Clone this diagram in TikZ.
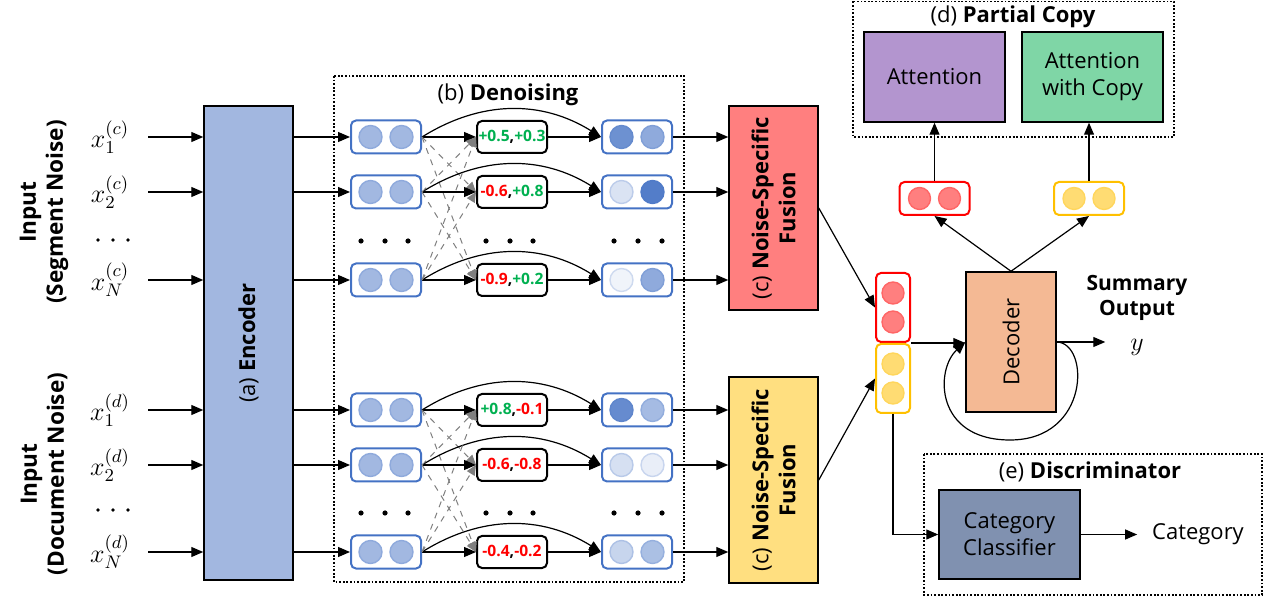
\RequirePackage{fix-cm}
\documentclass[tikz,border=0pt]{standalone}
\usepackage{fontspec}
\setmainfont{Open Sans}
\usetikzlibrary{arrows.meta,calc}

\definecolor{encfill}{RGB}{162,183,224}
\definecolor{boxblue}{RGB}{68,114,196}
\definecolor{fusred}{RGB}{255,127,127}
\definecolor{fusyel}{RGB}{255,223,128}
\definecolor{decfill}{RGB}{244,185,148}
\definecolor{attfill}{RGB}{179,149,207}
\definecolor{copyfill}{RGB}{127,214,166}
\definecolor{clsfill}{RGB}{128,145,176}
\definecolor{posg}{RGB}{0,176,80}
\definecolor{negr}{RGB}{255,0,0}
\definecolor{redline}{RGB}{255,0,0}
\definecolor{redcell}{RGB}{255,127,127}
\definecolor{yelline}{RGB}{255,192,0}
\definecolor{yelcell}{RGB}{255,220,115}
\definecolor{arrgray}{RGB}{127,127,127}

\tikzset{
  every node/.style={font=\fontsize{11}{13.5}\selectfont},
  arr/.style={line width=0.6pt, -{Triangle[length=6pt,width=5pt]}},
  garr/.style={arrgray, dashed, line width=0.5pt, -{Triangle[length=5pt,width=4.5pt]}},
  block/.style={draw, line width=0.75pt, align=center},
  vbox/.style={draw=boxblue, line width=1pt, rounded corners=2.5pt, minimum width=35pt, minimum height=16.5pt, inner sep=0pt},
  valbox/.style={draw, line width=1pt, rounded corners=2.5pt, minimum width=35pt, minimum height=16pt, inner sep=0pt, font=\fontsize{7.8}{9}\selectfont\bfseries},
  xlabel/.style={font=\fontsize{13}{15}\selectfont},
  dotbox/.style={dash pattern=on 0.9pt off 0.9pt, line width=0.8pt},
  cellred/.style={line width=0.7pt, fill=redcell, draw=redcell!80!redline},
  cellyel/.style={line width=0.7pt, fill=yelcell, draw=yelcell!80!yelline},
}

% vector of two blue cells: name, x, y, shade left, shade right
\newcommand{\vecbox}[5]{%
  \node[vbox] (#1) at (#2,#3) {};
  \draw[line width=0.7pt, fill=boxblue!#4!white, draw=boxblue!#4!white!80!boxblue] ([xshift=-7.75pt]#1.center) circle (5.75pt);
  \draw[line width=0.7pt, fill=boxblue!#5!white, draw=boxblue!#5!white!80!boxblue] ([xshift=7.75pt]#1.center) circle (5.75pt);}
% red / yellow vectors: name, x, y, red or yel
\newcommand{\hpair}[4]{%
  \node[draw=#4line, line width=1pt, rounded corners=2.5pt, minimum width=35pt, minimum height=16.5pt, inner sep=0pt] (#1) at (#2,#3) {};
  \draw[cell#4] ([xshift=-7.5pt]#1.center) circle (5.5pt);
  \draw[cell#4] ([xshift=7.5pt]#1.center) circle (5.5pt);}
\newcommand{\vpair}[4]{%
  \node[draw=#4line, line width=1pt, rounded corners=2.5pt, minimum width=17pt, minimum height=34.5pt, inner sep=0pt] (#1) at (#2,#3) {};
  \draw[cell#4] ([yshift=7.25pt]#1.center) circle (5.5pt);
  \draw[cell#4] ([yshift=-7.25pt]#1.center) circle (5.5pt);}
\newcommand{\pv}[1]{\textcolor{posg}{#1}}
\newcommand{\nv}[1]{\textcolor{negr}{#1}}

\begin{document}
\begin{tikzpicture}[x=0.5pt, y=-0.5pt]
    \useasboundingbox (0,0) rectangle (1267,613);

    % Inputs
    \node[rotate=90, align=center, font=\fontsize{11.3}{13.5}\selectfont\bfseries] (inc) at (44,212) {Input\\(Segment Noise)};
    \node[rotate=90, align=center, font=\fontsize{11.3}{13.5}\selectfont\bfseries] (ind) at (44,474) {Input\\(Document Noise)};
    \node[xlabel] (xt1) at (110,137) {$x_1^{(c)}$};
    \node[xlabel] (xt2) at (110,192) {$x_2^{(c)}$};
    \node[xlabel] (xt3) at (110,280) {$x_N^{(c)}$};
    \node[xlabel] (xb1) at (110,410) {$x_1^{(d)}$};
    \node[xlabel] (xb2) at (110,465) {$x_2^{(d)}$};
    \node[xlabel] (xb3) at (110,552) {$x_N^{(d)}$};
    \foreach \x in {98,113,128} {
        \fill (\x,240) circle (0.9pt);
        \fill (\x,510) circle (0.9pt);
    }

    % Encoder
    \node[block, fill=encfill, minimum width=44.5pt, minimum height=237pt] (enc) at (248.5,343) {};
    \node[rotate=90] (enctext) at (enc.center) {(a) \textbf{Encoder}};
    \foreach \grp in {t,b} {
        \foreach \i in {1,2,3} {
            \draw[arr] (148,0 |- x\grp\i) -- (enc.west |- x\grp\i);
        }
    }

    % Denoising
    \draw[dotbox] (334,76) rectangle (684,582);
    \node (dntitle) at (508,95) {(b) \textbf{Denoising}};
    \vecbox{tl1}{386}{137}{50}{50}
    \vecbox{tl2}{386}{192}{50}{50}
    \vecbox{tl3}{386}{280}{50}{50}
    \vecbox{bl1}{386}{410}{50}{50}
    \vecbox{bl2}{386}{465}{50}{50}
    \vecbox{bl3}{386}{552}{50}{50}
    \node[valbox] (tm1) at (512,137) {\pv{+0.5},\pv{+0.3}};
    \node[valbox] (tm2) at (512,192) {\nv{-0.6},\pv{+0.8}};
    \node[valbox] (tm3) at (512,280) {\nv{-0.9},\pv{+0.2}};
    \node[valbox] (bm1) at (512,410) {\pv{+0.8},\nv{-0.1}};
    \node[valbox] (bm2) at (512,465) {\nv{-0.6},\nv{-0.8}};
    \node[valbox] (bm3) at (512,552) {\nv{-0.4},\nv{-0.2}};
    \vecbox{tr1}{637}{137}{78}{60}
    \vecbox{tr2}{637}{192}{20}{92}
    \vecbox{tr3}{637}{280}{8}{60}
    \vecbox{br1}{637}{410}{82}{48}
    \vecbox{br2}{637}{465}{22}{12}
    \vecbox{br3}{637}{552}{30}{45}
    \foreach \x in {361,385,408,486,510,533,614,638,662} {
        \fill (\x,241) circle (1.3pt);
        \fill (\x,513) circle (1.3pt);
    }

    % Noise-specific fusion
    \node[block, fill=fusred, minimum width=44.5pt, minimum height=102pt] (fust) at (773.5,208) {};
    \node[block, fill=fusyel, minimum width=44.5pt, minimum height=103pt] (fusb) at (773.5,480) {};
    \node[rotate=90, align=center] (fusttext) at (fust.center) {(c) \textbf{Noise-Specific}\\\textbf{Fusion}};
    \node[rotate=90, align=center] (fusbtext) at (fusb.center) {(c) \textbf{Noise-Specific}\\\textbf{Fusion}};

    % Denoising arrows
    \foreach \grp in {t,b} {
        \foreach \i in {1,2,3} {
            \draw[arr] (enc.east |- \grp l\i) -- (\grp l\i.west);
            \draw[arr] (\grp l\i.east) -- (\grp m\i.west);
            \draw[arr] (\grp l\i.east) to[bend left=32] (\grp r\i.west);
            \draw[arr] (\grp m\i.east) -- (\grp r\i.west);
            \draw[arr] (\grp r\i.east) -- (fus\grp.west |- \grp r\i);
            \foreach \j in {1,2,3} {
                \ifnum\i=\j\else
                    \draw[garr] (\grp l\i.east) -- (\grp m\j.west);
                \fi
            }
        }
    }

    % Decoder
    \vpair{str}{893}{307.5}{red}
    \vpair{sty}{893}{378.5}{yel}
    \node[block, fill=decfill, minimum width=45pt, minimum height=70pt] (dec) at (1011,342) {};
    \node[rotate=90] (dectext) at (dec.center) {Decoder};
    \draw[arr] (fust.east) -- (str.west);
    \draw[arr] (fusb.east) -- (sty.west);
    \draw[arr] (str.south east) -- (dec.west |- str.south east);
    \draw[arr] (dec.east) .. controls (1090,343) and (1090,440) .. (1010,440)
                          .. controls (935,440) and (935,370) .. (dec.west);
    \node[xlabel] (yout) at (1137,347) {$y$};
    \node[align=center, font=\fontsize{10.5}{12.5}\selectfont\bfseries] (sumout) at (1137,298) {Summary\\Output};
    \draw[arr, shorten >=9pt] (dec.east) -- (yout.west |- dec.east);

    % Partial copy
    \draw[dotbox] (853,1.5) rectangle (1174,137);
    \node (pctitle) at (1013,17) {(d) \textbf{Partial Copy}};
    \node[block, fill=attfill, minimum width=70.5pt, minimum height=45pt] (att) at (934.5,77) {Attention};
    \node[block, fill=copyfill, minimum width=70.5pt, minimum height=45pt] (copy) at (1092.5,77) {Attention\\with Copy};
    \hpair{hvr}{934.5}{198.5}{red}
    \hpair{hvy}{1089}{198.5}{yel}
    \draw[arr] (dec.north) -- (hvr.south);
    \draw[arr] (dec.north) -- (hvy.south);
    \draw[arr] (hvr.north) -- (att.south);
    \draw[arr] (hvy.north) -- (copy.south -| hvy.north);

    % Discriminator
    \draw[dotbox] (924,454) rectangle (1262,595);
    \node (dstitle) at (1090,472) {(e) \textbf{Discriminator}};
    \node[block, fill=clsfill, minimum width=70.5pt, minimum height=44.5pt] (cls) at (1009.5,534.5) {Category\\Classifier};
    \node (catout) at (1198,534.5) {Category};
    \draw[arr] (sty.south) |- (cls.west);
    \draw[arr, shorten >=4pt] (cls.east) -- (catout.west);
\end{tikzpicture}
\end{document}
